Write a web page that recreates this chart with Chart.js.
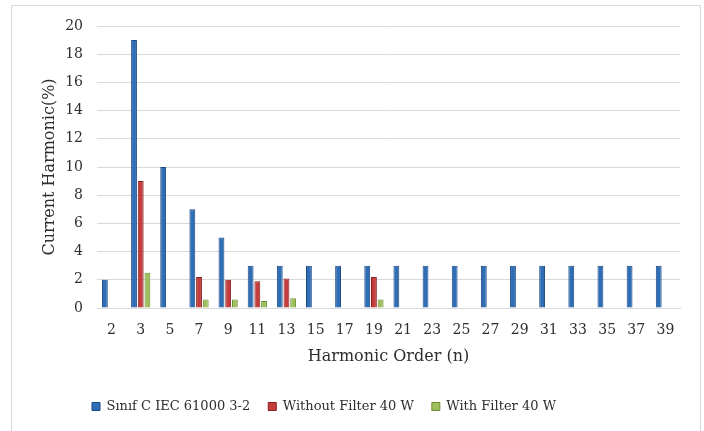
<!DOCTYPE html>
<html>
<head>
<meta charset="utf-8">
<script src="https://cdn.jsdelivr.net/npm/chart.js@4.4.0/dist/chart.umd.min.js"></script>
<style>
  html, body { margin: 0; padding: 0; background: #fff; }
  #frame { position: absolute; left: 11px; top: 5px; width: 688px; height: 440px; border: 1px solid #d9d9d9; }
  #wrap { position: absolute; left: 0; top: 0; width: 704px; height: 431px; }
</style>
</head>
<body>
<div id="frame"></div>
<div id="wrap"><canvas id="harmonics" width="704" height="431"></canvas></div>
<script>
// harmonic orders on the x axis
let orders = ["2", "3", "5", "7", "9", "11", "13", "15", "17", "19", "21", "23", "25", "27", "29", "31", "33", "35", "37", "39"];

// limits of the standard (%)
let sinifC = [2, 19, 10, 7, 5, 3, 3, 3, 3, 3, 3, 3, 3, 3, 3, 3, 3, 3, 3, 3];
// measured, lamp without filter
let withoutFilter = [null, 9, null, 2.2, 2.0, 1.9, 2.1, null, null, 2.2, null, null, null, null, null, null, null, null, null, null];
// measured, lamp with filter
let withFilter = [null, 2.5, null, 0.6, 0.6, 0.5, 0.7, null, null, 0.6, null, null, null, null, null, null, null, null, null, null];

let yTicks = [0, 2, 4, 6, 8, 10, 12, 14, 16, 18, 20];

const fontFam = "'DejaVu Serif', serif";
const txt = '#2e2e2e';
const grid = '#d9d9d9';

// legend sits a bit left of centre in the original
const legendShift = {
    id: 'legendShift',
    afterLayout(chart) {
        chart.legend.left -= 31;
        chart.legend.right -= 31;
    }
};

let ctx = document.getElementById('harmonics');

const harmonicsChart = new Chart(ctx, {
    type: 'bar',
    data: {
        labels: orders,
        datasets: [{
            label: 'Sınıf C IEC 61000 3-2',
            data: sinifC,
            backgroundColor: '#2f6db5',
            borderColor: '#1d4a86',
            borderWidth: 1
        }, {
            label: 'Without Filter 40 W',
            data: withoutFilter,
            backgroundColor: '#c33e3c',
            borderColor: '#8a1d1d',
            borderWidth: 1
        }, {
            label: 'With Filter 40 W',
            data: withFilter,
            backgroundColor: '#9dc05a',
            borderColor: '#6e8c35',
            borderWidth: 1
        }]
    },
    options: {
        responsive: false,
        animation: false,
        categoryPercentage: 0.69,
        barPercentage: 0.87,
        layout: { padding: { left: 30, right: 24, top: 26, bottom: 8 } },
        scales: {
            x: {
                grid: { display: false, drawTicks: false },
                border: { color: grid },
                ticks: { color: txt, font: { family: fontFam, size: 14 }, padding: 14 },
                title: { display: true, text: 'Harmonic Order (n)', color: txt, font: { family: fontFam, size: 16 }, padding: { top: -6, bottom: 16 } }
            },
            y: {
                min: 0,
                max: 20,
                afterBuildTicks: axis => { axis.ticks = yTicks.map(v => ({ value: v })); },
                grid: { color: grid, drawTicks: false },
                border: { display: false },
                ticks: { color: txt, font: { family: fontFam, size: 14 }, padding: 14 },
                title: { display: true, text: 'Current Harmonic(%)', color: txt, font: { family: fontFam, size: 16 }, padding: { top: 10, bottom: 0 } },
                afterFit: axis => { axis.width = 67; }
            }
        },
        plugins: {
            legend: {
                position: 'bottom',
                labels: {
                    color: txt,
                    font: { family: fontFam, size: 13 },
                    boxWidth: 8,
                    boxHeight: 8,
                    padding: 18
                }
            },
            tooltip: { enabled: false }
        }
    },
    plugins: [legendShift]
});
</script>
</body>
</html>
